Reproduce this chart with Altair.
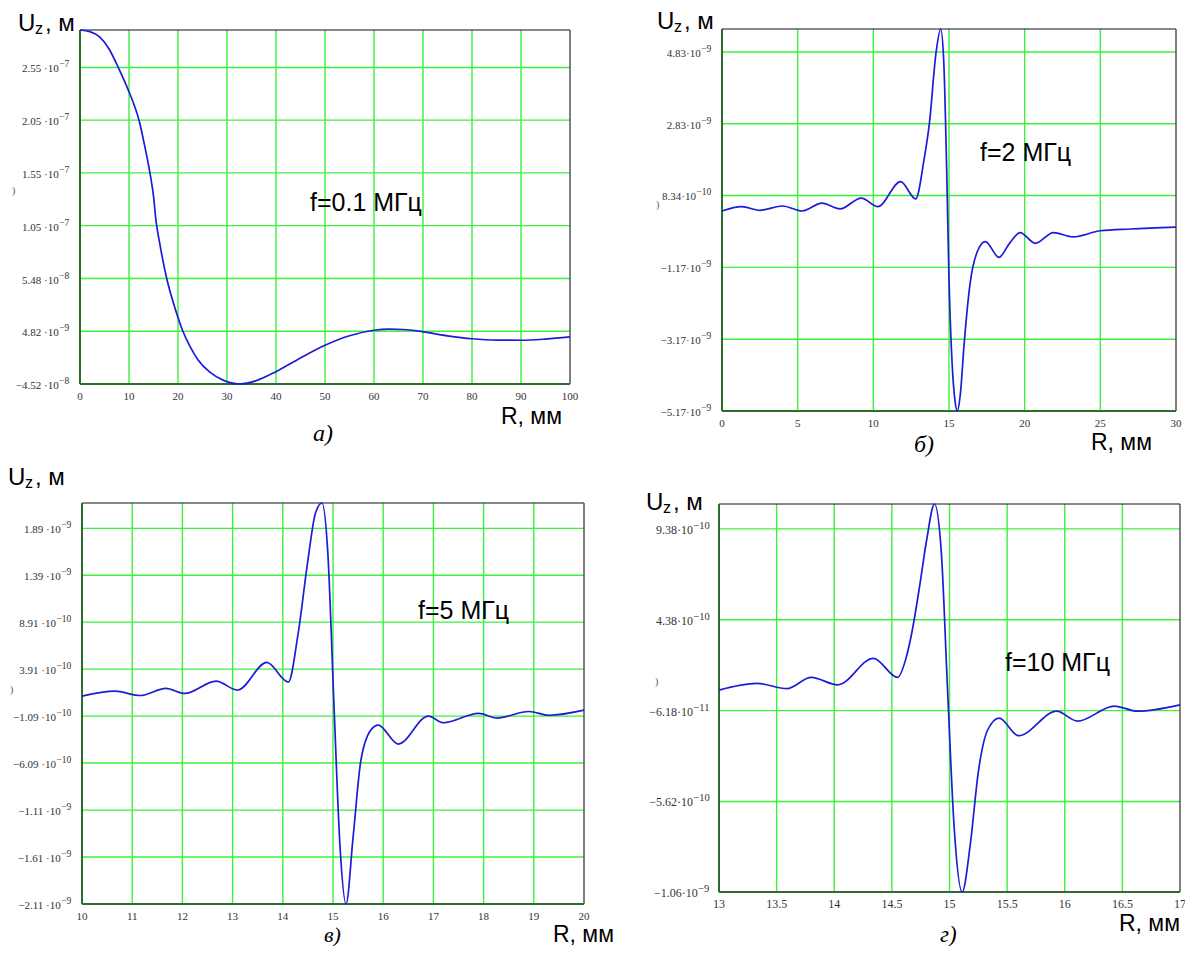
import altair as alt
import pandas as pd

# ---------------- data ----------------
# а) f = 0.1 MHz
A_R = [0, 2, 4, 6, 7.8, 9.9, 11.0, 12.1, 13.0, 14.0, 14.6, 15.0, 15.5, 16.2, 17.7, 19.3,
       21.0, 22.5, 24.1, 26.5, 29.2, 32.5, 36, 40, 45, 50, 55, 60, 63, 66, 70, 75, 80, 85,
       90, 95, 100]
A_U = [2.905e-7, 2.89e-7, 2.84e-7, 2.72e-7, 2.55e-7, 2.33e-7, 2.20e-7, 2.04e-7, 1.85e-7,
       1.62e-7, 1.46e-7, 1.33e-7, 1.10e-7, 9.0e-8, 5.48e-8, 2.8e-8, 4.8e-9, -1.0e-8,
       -2.24e-8, -3.4e-8, -4.15e-8, -4.52e-8, -4.2e-8, -3.35e-8, -2.05e-8, -8.5e-9, 5e-10,
       5.8e-9, 6.8e-9, 6.5e-9, 4.3e-9, 5e-10, -2.3e-9, -3.6e-9, -3.7e-9, -2.6e-9, -6e-10]
A_XT = [0, 10, 20, 30, 40, 50, 60, 70, 80, 90, 100]
A_XL = ["0", "10", "20", "30", "40", "50", "60", "70", "80", "90", "100"]
A_YT = [-4.52e-8, 4.82e-9, 5.48e-8, 1.05e-7, 1.55e-7, 2.05e-7, 2.55e-7]
A_YM = ["\u22124.52 \u00b710", "4.82 \u00b710", "5.48 \u00b710", "1.05 \u00b710", "1.55 \u00b710",
        "2.05 \u00b710", "2.55 \u00b710"]
A_YE = ["\u22128", "\u22129", "\u22128", "\u22127", "\u22127", "\u22127", "\u22127"]

# б) f = 2 MHz
B_R = [0, 1.3, 2.5, 4.0, 5.3, 6.6, 7.8, 9.2, 10.3, 11.8, 12.8, 13.35, 13.7, 14.15, 14.45,
       14.65, 14.85, 15.0, 15.2, 15.4, 15.55, 15.75, 16.0, 16.4, 16.9, 17.4, 18.3, 19.0,
       19.7, 20.7, 21.9, 23.2, 25, 27, 30]
B_U = [0.40e-9, 0.52e-9, 0.42e-9, 0.54e-9, 0.40e-9, 0.62e-9, 0.46e-9, 0.76e-9, 0.52e-9,
       1.22e-9, 0.74e-9, 1.83e-9, 2.83e-9, 4.83e-9, 5.47e-9, 4.6e-9, 1.5e-9, -1.5e-9,
       -3.8e-9, -4.9e-9, -5.17e-9, -4.7e-9, -3.3e-9, -1.6e-9, -0.7e-9, -0.45e-9, -0.89e-9,
       -0.5e-9, -0.2e-9, -0.5e-9, -0.2e-9, -0.32e-9, -0.15e-9, -0.1e-9, -0.05e-9]
B_XT = [0, 5, 10, 15, 20, 25, 30]
B_XL = ["0", "5", "10", "15", "20", "25", "30"]
B_YT = [-5.17e-9, -3.17e-9, -1.17e-9, 8.34e-10, 2.83e-9, 4.83e-9]
B_YM = ["\u22125.17\u00b710", "\u22123.17\u00b710", "\u22121.17\u00b710", "8.34\u00b710",
        "2.83\u00b710", "4.83\u00b710"]
B_YE = ["\u22129", "\u22129", "\u22129", "\u221210", "\u22129", "\u22129"]

# в) f = 5 MHz
C_R = [10, 10.66, 11.16, 11.67, 12.05, 12.67, 13.1, 13.68, 14.11, 14.3, 14.5, 14.65, 14.78,
       14.9, 15.02, 15.14, 15.26, 15.4, 15.55, 15.75, 15.9, 16.3, 16.9, 17.2, 17.9, 18.27,
       18.9, 19.3, 20]
C_U = [1.04e-10, 1.57e-10, 1.1e-10, 1.86e-10, 1.32e-10, 2.63e-10, 1.68e-10, 4.62e-10,
       2.53e-10, 7.5e-10, 1.55e-9, 2.05e-9, 2.16e-9, 1.6e-9, 0.0, -1.5e-9, -2.11e-9,
       -1.4e-9, -6.0e-10, -2.6e-10, -2.05e-10, -4.07e-10, -1.09e-10, -1.8e-10, -0.8e-10,
       -1.3e-10, -0.6e-10, -1.0e-10, -0.45e-10]
C_XT = [10, 11, 12, 13, 14, 15, 16, 17, 18, 19, 20]
C_XL = ["10", "11", "12", "13", "14", "15", "16", "17", "18", "19", "20"]
C_YT = [-2.11e-9, -1.61e-9, -1.11e-9, -6.09e-10, -1.09e-10, 3.91e-10, 8.91e-10, 1.39e-9,
        1.89e-9]
C_YM = ["\u22122.11 \u00b710", "\u22121.61 \u00b710", "\u22121.11 \u00b710", "\u22126.09 \u00b710",
        "\u22121.09 \u00b710", "3.91 \u00b710", "8.91 \u00b710", "1.39 \u00b710", "1.89 \u00b710"]
C_YE = ["\u22129", "\u22129", "\u22129", "\u221210", "\u221210", "\u221210", "\u221210",
        "\u22129", "\u22129"]

# г) f = 10 MHz
D_R = [13, 13.33, 13.59, 13.8, 14.03, 14.34, 14.55, 14.62, 14.68, 14.74, 14.8, 14.87,
       14.93, 14.98, 15.04, 15.11, 15.18, 15.25, 15.33, 15.43, 15.6, 15.93, 16.11, 16.43,
       16.63, 17]
D_U = [0.51e-10, 0.88e-10, 0.59e-10, 1.21e-10, 0.80e-10, 2.26e-10, 1.21e-10, 2.2e-10,
       3.9e-10, 6.2e-10, 8.7e-10, 10.75e-10, 8.0e-10, 1.0e-10, -7.0e-10, -10.6e-10,
       -8.0e-10, -4.0e-10, -1.7e-10, -1.03e-10, -2.0e-10, -0.65e-10, -1.2e-10, -0.37e-10,
       -0.65e-10, -0.3e-10]
D_XT = [13, 13.5, 14, 14.5, 15, 15.5, 16, 16.5, 17]
D_XL = ["13", "13.5", "14", "14.5", "15", "15.5", "16", "16.5", "17"]
D_YT = [-1.06e-9, -5.62e-10, -6.18e-11, 4.38e-10, 9.38e-10]
D_YM = ["\u22121.06\u00b710", "\u22125.62\u00b710", "\u22126.18\u00b710", "4.38\u00b710", "9.38\u00b710"]
D_YE = ["\u22129", "\u221210", "\u221211", "\u221210", "\u221210"]

FREQ = ["f=0.1 \u041c\u0413\u0446", "f=2 \u041c\u0413\u0446", "f=5 \u041c\u0413\u0446",
        "f=10 \u041c\u0413\u0446"]
CAPS = ["\u0430)", "\u0431)", "\u0432)", "\u0433)"]

# ---------------- layout (chart pixel coords = page - 8) ----------------
PANELS = [
    dict(R=A_R, U=A_U, xt=A_XT, xl=A_XL, yt=A_YT, ym=A_YM, ye=A_YE,
         xdom=[0, 100], xr=[72, 562], ydom=[-4.52e-8, 2.905e-7], yr=[376, 22], fs=11,
         title=(10, 23), rlab=(554, 416), cap=(305, 433), freq=(302, 203), stray=(4, 186),
         capsize=24),
    dict(R=B_R, U=B_U, xt=B_XT, xl=B_XL, yt=B_YT, ym=B_YM, ye=B_YE,
         xdom=[0, 30], xr=[714, 1168], ydom=[-5.17e-9, 5.47e-9], yr=[403, 21], fs=11,
         title=(649, 21), rlab=(1144, 442), cap=(906, 444), freq=(972, 153), stray=(648, 200),
         capsize=24),
    dict(R=C_R, U=C_U, xt=C_XT, xl=C_XL, yt=C_YT, ym=C_YM, ye=C_YE,
         xdom=[10, 20], xr=[74, 576], ydom=[-2.11e-9, 2.16e-9], yr=[896, 495], fs=11,
         title=(0, 477), rlab=(606, 934), cap=(316, 934), freq=(410, 611), stray=(2, 685),
         capsize=22),
    dict(R=D_R, U=D_U, xt=D_XT, xl=D_XL, yt=D_YT, ym=D_YM, ye=D_YE,
         xdom=[13, 17], xr=[711, 1172], ydom=[-1.06e-9, 1.075e-9], yr=[884, 496], fs=12,
         title=(638, 502), rlab=(1172, 923), cap=(932, 934), freq=(997, 663), stray=(647, 677),
         capsize=23),
]

ONE = pd.DataFrame({"k": [0]})
GRID = "#3cf03c"
BLUE = "#1c1cd8"
EDGE = "#2f6a2f"
SERIF = "Liberation Serif"
SANS = "Liberation Sans"


def scales(p):
    xs = alt.Scale(domain=p["xdom"], range=p["xr"], nice=False, zero=False)
    ys = alt.Scale(domain=p["ydom"], range=p["yr"], nice=False, zero=False)
    return xs, ys


def text_at(s, x, y, size, font=SANS, style="normal", align="left", color="black"):
    return alt.Chart(ONE).mark_text(
        text=s, fontSize=size, font=font, fontStyle=style, align=align,
        baseline="alphabetic", color=color
    ).encode(x=alt.value(x), y=alt.value(y))


def panel_layers(p, freq, cap):
    xs, ys = scales(p)
    x0, x1 = p["xdom"]
    y0, y1 = p["ydom"]
    L = []
    # vertical grid
    vx = [t for t in p["xt"] if x0 < t < x1]
    L.append(alt.Chart(pd.DataFrame({"t": vx})).mark_rule(color=GRID, strokeWidth=1.4).encode(
        x=alt.X("t:Q", scale=xs, axis=None),
        y=alt.Y(datum=y0, type="quantitative", scale=ys, axis=None),
        y2=alt.Y2(datum=y1)))
    # horizontal grid
    hy = [t for t in p["yt"] if y0 < t < y1]
    L.append(alt.Chart(pd.DataFrame({"t": hy})).mark_rule(color=GRID, strokeWidth=1.4).encode(
        y=alt.Y("t:Q", scale=ys, axis=None),
        x=alt.X(datum=x0, type="quantitative", scale=xs, axis=None),
        x2=alt.X2(datum=x1)))
    # frame
    L.append(alt.Chart(ONE).mark_rule(color="#111111", strokeWidth=1).encode(
        y=alt.Y(datum=y1, type="quantitative", scale=ys, axis=None),
        x=alt.X(datum=x0, type="quantitative", scale=xs, axis=None), x2=alt.X2(datum=x1)))
    L.append(alt.Chart(ONE).mark_rule(color="#555555", strokeWidth=1.5).encode(
        x=alt.X(datum=x1, type="quantitative", scale=xs, axis=None),
        y=alt.Y(datum=y0, type="quantitative", scale=ys, axis=None), y2=alt.Y2(datum=y1)))
    L.append(alt.Chart(ONE).mark_rule(color=EDGE, strokeWidth=2).encode(
        x=alt.X(datum=x0, type="quantitative", scale=xs, axis=None),
        y=alt.Y(datum=y0, type="quantitative", scale=ys, axis=None), y2=alt.Y2(datum=y1)))
    L.append(alt.Chart(ONE).mark_rule(color=EDGE, strokeWidth=2).encode(
        y=alt.Y(datum=y0, type="quantitative", scale=ys, axis=None),
        x=alt.X(datum=x0, type="quantitative", scale=xs, axis=None), x2=alt.X2(datum=x1)))
    # curve
    L.append(alt.Chart(pd.DataFrame({"R": p["R"], "U": p["U"]})).mark_line(
        color=BLUE, strokeWidth=1.7, interpolate="monotone").encode(
        x=alt.X("R:Q", scale=xs, axis=None),
        y=alt.Y("U:Q", scale=ys, axis=None), order="R:Q"))
    # x tick labels
    L.append(alt.Chart(pd.DataFrame({"t": p["xt"], "s": p["xl"]})).mark_text(
        font=SERIF, fontSize=p["fs"], color="#333333", align="center",
        baseline="alphabetic", dy=15.5).encode(
        x=alt.X("t:Q", scale=xs, axis=None),
        y=alt.Y(datum=y0, type="quantitative", scale=ys, axis=None),
        text="s:N"))
    # y tick labels: mantissa + superscript exponent, right aligned as a whole
    dpp = (x1 - x0) / (p["xr"][1] - p["xr"][0])
    exp_w = [5.5 + 4.8 * (len(e) - 1) for e in p["ye"]]
    anchor = [x0 - (11 + w) * dpp for w in exp_w]
    ydf = pd.DataFrame({"t": p["yt"], "m": p["ym"], "e": p["ye"], "a": anchor})
    L.append(alt.Chart(ydf).mark_text(
        font=SERIF, fontSize=p["fs"], color="#333333", align="right",
        baseline="alphabetic", dy=5).encode(
        x=alt.X("a:Q", scale=xs, axis=None),
        y=alt.Y("t:Q", scale=ys, axis=None), text="m:N"))
    L.append(alt.Chart(ydf).mark_text(
        font=SERIF, fontSize=p["fs"] - 1.5, color="#333333", align="left",
        baseline="alphabetic", dx=0.5, dy=0).encode(
        x=alt.X("a:Q", scale=xs, axis=None),
        y=alt.Y("t:Q", scale=ys, axis=None), text="e:N"))
    # titles & annotations
    tx, ty = p["title"]
    L.append(text_at("U", tx, ty, 24))
    L.append(text_at("z", tx + 17, ty + 3, 16))
    L.append(text_at(", \u043c", tx + 27, ty, 24))
    rx, ry = p["rlab"]
    L.append(text_at("R, \u043c\u043c", rx, ry, 23, align="right"))
    cx, cy = p["cap"]
    L.append(text_at(cap, cx, cy, p["capsize"], font=SERIF, style="italic"))
    fx, fy = p["freq"]
    L.append(text_at(freq, fx, fy, 25))
    sx, sy = p["stray"]
    L.append(text_at(")", sx, sy, 10, font=SERIF, color="#555555"))
    return L


layers = []
for p, f, c in zip(PANELS, FREQ, CAPS):
    layers += panel_layers(p, f, c)

chart = alt.layer(*layers).resolve_scale(
    x="independent", y="independent"
).properties(
    width=1177, height=938, padding=0,
    autosize=alt.AutoSizeParams(type="none")
).configure_view(stroke=None)

chart.save("out.html", embed_options={"renderer": "svg", "actions": False})
